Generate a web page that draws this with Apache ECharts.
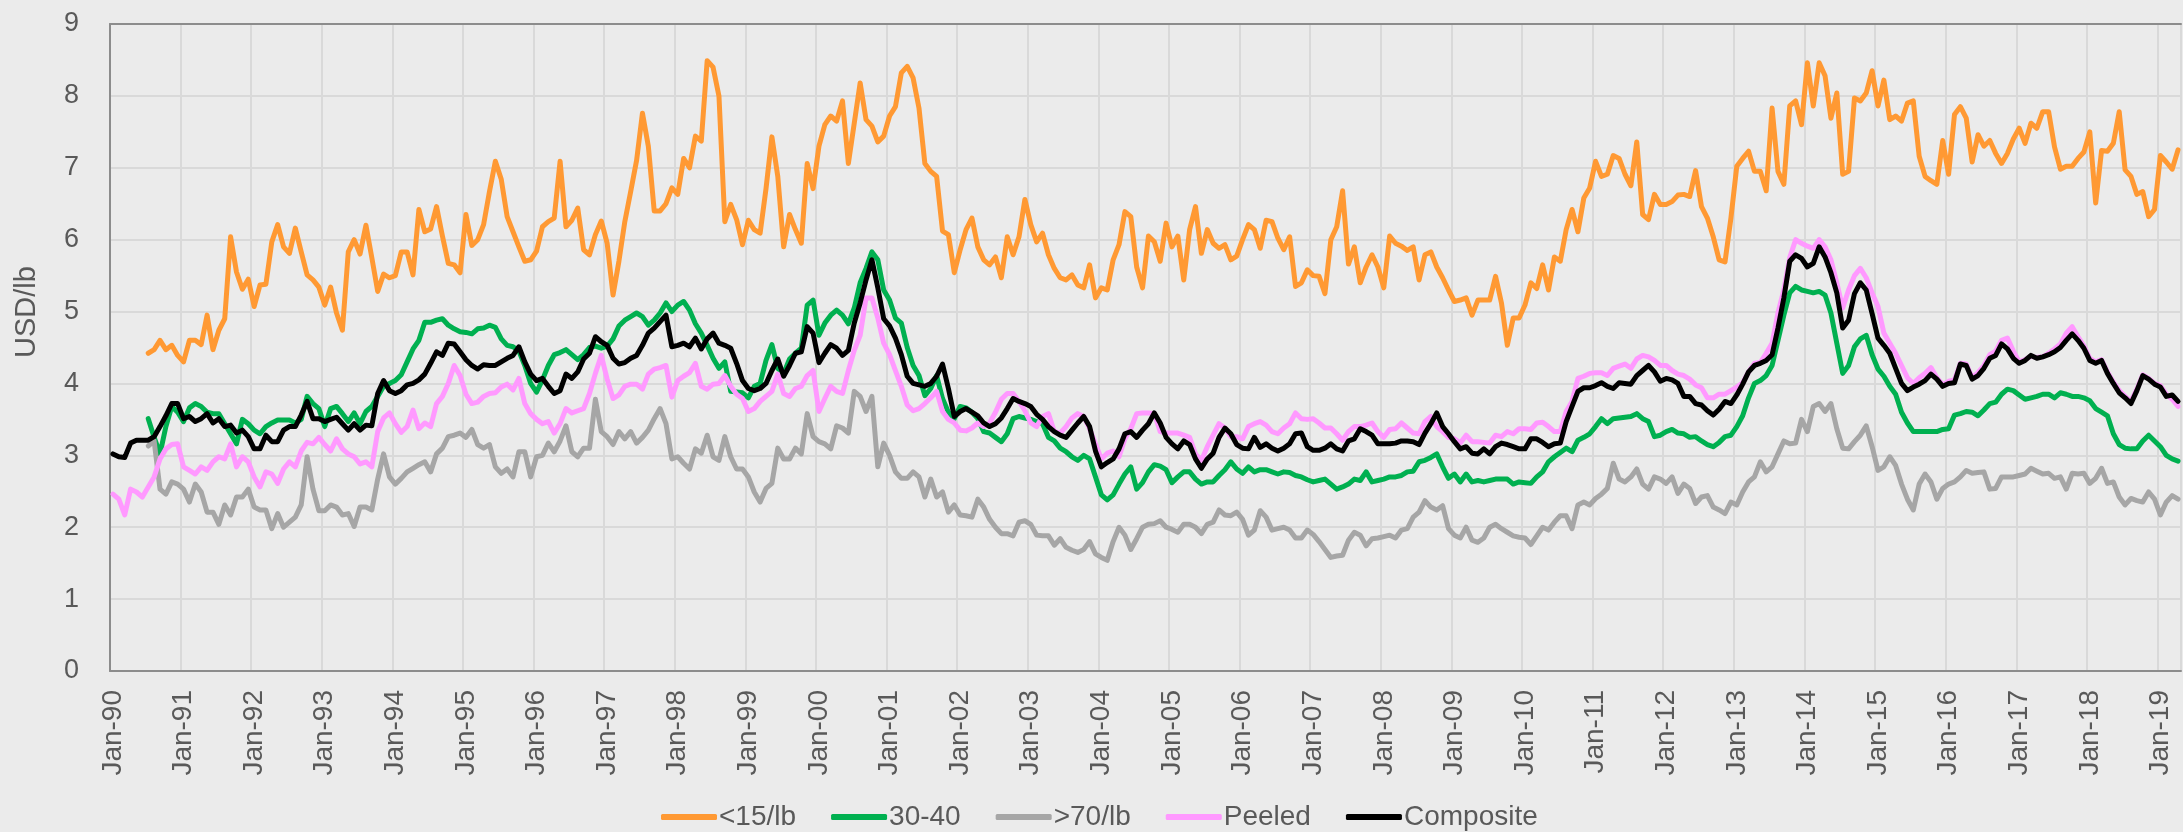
<!DOCTYPE html>
<html>
<head>
<meta charset="utf-8">
<script src="https://cdn.jsdelivr.net/npm/echarts@6/dist/echarts.min.js"></script>
<style>
html, body { margin: 0; padding: 0; background: #ebebeb; }
#chart { width: 2183px; height: 832px; }
</style>
</head>
<body>
<div id="chart"></div>
<script>
// monthly, Jan-90 .. Apr-19, USD/lb
var monthNames = ["Jan", "Feb", "Mar", "Apr", "May", "Jun", "Jul", "Aug", "Sep", "Oct", "Nov", "Dec"];
var firstYear = 1990, lastYear = 2019, lastMonth = 4;

var under15 = [
  null, null, null, null, null, null, 4.42, 4.47, 4.6, 4.47, 4.53, 4.39,
  4.3, 4.6, 4.6, 4.54, 4.95, 4.47, 4.74, 4.9, 6.04, 5.55, 5.31, 5.45,
  5.07, 5.37, 5.38, 5.97, 6.21, 5.9, 5.81, 6.16, 5.83, 5.51, 5.44, 5.34,
  5.09, 5.34, 4.98, 4.74, 5.83, 6.0, 5.8, 6.2, 5.75, 5.28, 5.52, 5.47,
  5.5, 5.83, 5.83, 5.51, 6.42, 6.11, 6.15, 6.46, 6.05, 5.67, 5.65, 5.54,
  6.35, 5.92, 6.0, 6.21, 6.67, 7.09, 6.84, 6.32, 6.11, 5.9, 5.7, 5.72,
  5.84, 6.18, 6.25, 6.3, 7.09, 6.18, 6.27, 6.44, 5.86, 5.79, 6.07, 6.26,
  5.95, 5.23, 5.7, 6.25, 6.67, 7.1, 7.76, 7.3, 6.4, 6.4, 6.5, 6.72,
  6.63, 7.13, 7.0, 7.44, 7.37, 8.49, 8.4, 8.0, 6.25, 6.49, 6.28, 5.93,
  6.27, 6.14, 6.09, 6.71, 7.43, 6.88, 5.9, 6.35, 6.14, 5.95, 7.06, 6.71,
  7.3, 7.6, 7.72, 7.65, 7.93, 7.06, 7.62, 8.18, 7.67, 7.58, 7.36, 7.44,
  7.72, 7.85, 8.32, 8.41, 8.25, 7.83, 7.06, 6.95, 6.88, 6.12, 6.07, 5.54,
  5.86, 6.14, 6.3, 5.9, 5.72, 5.65, 5.76, 5.47, 6.04, 5.79, 6.04, 6.56,
  6.21, 5.97, 6.09, 5.79, 5.6, 5.47, 5.44, 5.51, 5.37, 5.33, 5.65, 5.19,
  5.33, 5.3, 5.72, 5.93, 6.39, 6.32, 5.62, 5.33, 6.05, 5.97, 5.7, 6.23,
  5.9, 6.05, 5.44, 6.14, 6.46, 5.81, 6.14, 5.95, 5.88, 5.93, 5.72, 5.77,
  6.0, 6.21, 6.14, 5.88, 6.27, 6.25, 6.02, 5.86, 6.04, 5.35, 5.4, 5.58,
  5.5, 5.49, 5.25, 6.0, 6.18, 6.68, 5.66, 5.9, 5.4, 5.62, 5.79, 5.62,
  5.33, 6.05, 5.95, 5.91, 5.85, 5.9, 5.44, 5.79, 5.83, 5.62, 5.47, 5.3,
  5.14, 5.16, 5.19, 4.95, 5.16, 5.16, 5.16, 5.49, 5.12, 4.53, 4.91, 4.91,
  5.09, 5.4, 5.32, 5.65, 5.3, 5.76, 5.7, 6.14, 6.42, 6.11, 6.58, 6.72,
  7.09, 6.88, 6.91, 7.17, 7.13, 6.91, 6.75, 7.36, 6.35, 6.28, 6.63, 6.49,
  6.49, 6.53, 6.62, 6.63, 6.6, 6.96, 6.46, 6.3, 6.04, 5.72, 5.69, 6.3,
  7.02, 7.13, 7.23, 6.95, 6.95, 6.68, 7.83, 6.95, 6.77, 7.86, 7.93, 7.6,
  8.46, 7.86, 8.46, 8.28, 7.69, 8.04, 6.91, 6.95, 7.97, 7.93, 8.04, 8.35,
  7.86, 8.22, 7.67, 7.72, 7.65, 7.9, 7.93, 7.16, 6.88, 6.82, 6.77, 7.38,
  6.91, 7.74, 7.85, 7.69, 7.08, 7.46, 7.3, 7.38, 7.2, 7.06, 7.2, 7.4,
  7.55, 7.34, 7.62, 7.55, 7.78, 7.78, 7.29, 6.98, 7.02, 7.02, 7.13, 7.22,
  7.5, 6.51, 7.24, 7.23, 7.34, 7.78, 6.97, 6.88, 6.63, 6.67, 6.32, 6.42,
  7.17, 7.08, 6.98, 7.25
];

var size3040 = [
  null, null, null, null, null, null, 3.51, 3.25, 3.02, 3.4, 3.68, 3.6,
  3.47, 3.66, 3.72, 3.68, 3.6, 3.58, 3.58, 3.44, 3.3, 3.16, 3.5, 3.44,
  3.35, 3.3, 3.4, 3.45, 3.49, 3.49, 3.49, 3.45, 3.5, 3.82, 3.72, 3.65,
  3.4, 3.65, 3.68, 3.58, 3.47, 3.59, 3.44, 3.61, 3.68, 3.82, 3.96, 4.0,
  4.04, 4.12, 4.3, 4.48, 4.6, 4.85, 4.85, 4.88, 4.9, 4.81, 4.76, 4.72,
  4.71, 4.69, 4.76, 4.77, 4.81, 4.78, 4.62, 4.53, 4.51, 4.45, 4.25, 4.0,
  3.88, 4.05, 4.25, 4.4, 4.43, 4.47, 4.4, 4.33, 4.4, 4.5, 4.52, 4.49,
  4.52, 4.62, 4.8, 4.88, 4.93, 4.98, 4.93, 4.81, 4.88, 4.98, 5.12, 5.0,
  5.09, 5.14, 5.02, 4.83, 4.7, 4.53, 4.35, 4.21, 4.3, 3.89, 3.88, 3.87,
  3.8, 3.96, 4.0, 4.32, 4.54, 4.21, 4.14, 4.34, 4.42, 4.49, 5.09, 5.16,
  4.67, 4.84, 4.95, 5.02, 4.95, 4.83, 5.05, 5.4, 5.6, 5.83, 5.72, 5.3,
  5.16, 4.91, 4.84, 4.5, 4.25, 4.11, 3.83, 3.93, 4.11, 3.79, 3.6, 3.51,
  3.68, 3.66, 3.6, 3.51, 3.33, 3.31, 3.25, 3.19, 3.3, 3.51, 3.54, 3.52,
  3.5, 3.47, 3.44, 3.25, 3.2, 3.1, 3.05, 2.98, 2.93, 3.0, 2.95, 2.7,
  2.45, 2.38, 2.45, 2.6, 2.74, 2.84, 2.53, 2.62, 2.77, 2.87, 2.85, 2.8,
  2.62, 2.7, 2.77, 2.77, 2.67, 2.6, 2.63, 2.63, 2.72, 2.8, 2.91, 2.81,
  2.75, 2.84, 2.77, 2.8, 2.8, 2.77, 2.74, 2.77, 2.76, 2.72, 2.7, 2.66,
  2.63, 2.65, 2.67, 2.6, 2.53, 2.56, 2.6, 2.67, 2.65, 2.77, 2.63, 2.65,
  2.67, 2.7, 2.7, 2.72, 2.77, 2.78, 2.91, 2.93, 2.97, 3.02, 2.84, 2.68,
  2.74, 2.63, 2.74, 2.63, 2.65, 2.63, 2.65, 2.67, 2.67, 2.67, 2.6, 2.63,
  2.62, 2.61, 2.7, 2.77, 2.91, 2.98, 3.04, 3.1, 3.05, 3.21, 3.25, 3.3,
  3.4, 3.51, 3.44, 3.51, 3.52, 3.53, 3.54, 3.58, 3.51, 3.47, 3.26, 3.28,
  3.33, 3.36, 3.31, 3.3, 3.25, 3.26, 3.2, 3.15, 3.12, 3.18, 3.26, 3.28,
  3.4, 3.55, 3.8, 4.0, 4.04, 4.11, 4.25, 4.6, 4.95, 5.26, 5.35, 5.3,
  5.28, 5.26, 5.28, 5.23, 4.98, 4.56, 4.14, 4.25, 4.51, 4.62, 4.67, 4.4,
  4.2, 4.1, 3.96, 3.85, 3.6, 3.45, 3.33, 3.33, 3.33, 3.33, 3.33, 3.36,
  3.37, 3.56, 3.58, 3.61, 3.6, 3.55, 3.63, 3.72, 3.74, 3.85, 3.92, 3.9,
  3.84, 3.78, 3.8, 3.82, 3.85, 3.85, 3.8, 3.87, 3.85, 3.82, 3.82, 3.8,
  3.76, 3.65, 3.6, 3.55, 3.3, 3.15, 3.1, 3.09, 3.09, 3.2, 3.28, 3.2,
  3.12, 3.0, 2.95, 2.92
];

var over70 = [
  null, null, null, null, null, null, 3.13, 3.2, 2.53, 2.46, 2.63, 2.6,
  2.53, 2.35, 2.6, 2.49, 2.21, 2.21, 2.04, 2.31, 2.17, 2.42, 2.42, 2.53,
  2.28, 2.24, 2.24, 1.98, 2.19, 2.0, 2.07, 2.14, 2.31, 2.98, 2.53, 2.23,
  2.23, 2.31, 2.28, 2.17, 2.19, 2.01, 2.28, 2.28, 2.24, 2.67, 3.02, 2.7,
  2.6, 2.68, 2.77, 2.82, 2.87, 2.91, 2.77, 3.02, 3.1, 3.26, 3.28, 3.31,
  3.25, 3.36, 3.15, 3.1, 3.15, 2.84, 2.75, 2.81, 2.7, 3.05, 3.05, 2.7,
  2.98, 3.0, 3.17, 3.05, 3.2, 3.41, 3.05, 2.98, 3.1, 3.1, 3.78, 3.33,
  3.26, 3.15, 3.33, 3.23, 3.33, 3.17, 3.25, 3.35, 3.51, 3.65, 3.44, 2.95,
  2.98, 2.89, 2.81, 3.09, 3.03, 3.28, 2.98, 2.93, 3.26, 2.98, 2.81, 2.81,
  2.7, 2.49, 2.35, 2.54, 2.61, 3.1, 2.95, 2.95, 3.1, 3.02, 3.58, 3.26,
  3.19, 3.16, 3.09, 3.41, 3.38, 3.31, 3.89, 3.82, 3.61, 3.82, 2.84, 3.17,
  3.0, 2.77, 2.68, 2.68, 2.77, 2.7, 2.42, 2.67, 2.42, 2.49, 2.21, 2.31,
  2.17, 2.16, 2.14, 2.39, 2.28, 2.11, 2.0, 1.91, 1.91, 1.88, 2.07, 2.09,
  2.04, 1.89, 1.88, 1.88, 1.75, 1.84, 1.72, 1.68, 1.65, 1.69, 1.8, 1.63,
  1.58, 1.54, 1.8, 2.0, 1.89, 1.69, 1.84, 2.0, 2.04, 2.05, 2.09, 2.0,
  1.97, 1.93, 2.04, 2.04, 2.0, 1.91, 2.04, 2.07, 2.24, 2.17, 2.16, 2.21,
  2.11, 1.89, 1.96, 2.23, 2.14, 1.96, 1.98, 2.0, 1.96, 1.85, 1.85, 1.96,
  1.9, 1.8, 1.69, 1.58, 1.6, 1.61, 1.82, 1.93, 1.89, 1.74, 1.84, 1.85,
  1.87, 1.89, 1.85, 1.96, 1.98, 2.14, 2.21, 2.37, 2.28, 2.24, 2.3, 1.98,
  1.89, 1.85, 2.0, 1.82, 1.79, 1.85, 2.0, 2.04, 1.98, 1.93, 1.88, 1.86,
  1.85, 1.76, 1.88, 2.0, 1.96, 2.07, 2.16, 2.16, 1.98, 2.31, 2.35, 2.31,
  2.4, 2.46, 2.54, 2.89, 2.67, 2.63, 2.7, 2.81, 2.6, 2.53, 2.7, 2.67,
  2.61, 2.7, 2.47, 2.6, 2.54, 2.33, 2.42, 2.44, 2.28, 2.24, 2.19, 2.35,
  2.31, 2.49, 2.63, 2.7, 2.91, 2.77, 2.84, 3.02, 3.2, 3.16, 3.17, 3.5,
  3.33, 3.68, 3.72, 3.61, 3.72, 3.37, 3.1, 3.09, 3.19, 3.28, 3.41, 3.12,
  2.79, 2.84, 2.98, 2.86, 2.6, 2.39, 2.24, 2.6, 2.74, 2.63, 2.39, 2.54,
  2.6, 2.63, 2.7, 2.79, 2.75, 2.76, 2.77, 2.53, 2.54, 2.7, 2.7, 2.7,
  2.72, 2.74, 2.82, 2.78, 2.74, 2.75, 2.68, 2.7, 2.53, 2.75, 2.74, 2.75,
  2.61, 2.68, 2.82, 2.61, 2.63, 2.42, 2.31, 2.4, 2.37, 2.35, 2.49, 2.39,
  2.17, 2.35, 2.44, 2.39
];

var peeled = [
  2.46, 2.39, 2.17, 2.53, 2.49, 2.42, 2.56, 2.7, 2.95, 3.09, 3.15, 3.16,
  2.84, 2.79, 2.74, 2.84, 2.79, 2.91, 2.98, 2.95, 3.16, 2.84, 2.98, 2.91,
  2.7, 2.56, 2.77, 2.74, 2.61, 2.81, 2.91, 2.84, 3.06, 3.18, 3.16, 3.25,
  3.15, 3.06, 3.23, 3.09, 3.02, 2.98, 2.88, 2.91, 2.84, 3.33, 3.52, 3.59,
  3.44, 3.32, 3.4, 3.63, 3.37, 3.45, 3.4, 3.72, 3.82, 4.0, 4.25, 4.11,
  3.85, 3.72, 3.74, 3.82, 3.86, 3.87, 3.95, 3.99, 3.91, 4.07, 3.72, 3.58,
  3.5, 3.44, 3.47, 3.31, 3.44, 3.65, 3.59, 3.62, 3.65, 3.86, 4.14, 4.39,
  4.06, 3.79, 3.84, 3.96, 3.99, 3.99, 3.92, 4.13, 4.2, 4.22, 4.25, 3.81,
  4.04, 4.1, 4.15, 4.28, 3.96, 3.92, 3.99, 4.0, 4.11, 3.96, 3.85, 3.79,
  3.61, 3.65, 3.75, 3.82, 3.89, 4.13, 3.86, 3.82, 3.93, 3.96, 4.11, 4.18,
  3.61, 3.79, 3.96, 3.89, 3.86, 4.18, 4.46, 4.67, 5.19, 5.19, 4.91, 4.56,
  4.4, 4.18, 3.96, 3.7, 3.62, 3.65, 3.72, 3.8, 3.89, 3.61, 3.5, 3.45,
  3.35, 3.34, 3.38, 3.45, 3.4, 3.45, 3.6, 3.78, 3.86, 3.86, 3.75, 3.62,
  3.45, 3.4, 3.54, 3.58, 3.33, 3.31, 3.4, 3.52, 3.58, 3.54, 3.37, 3.16,
  2.95, 3.03, 3.06, 2.98, 3.23, 3.37, 3.58, 3.59, 3.59, 3.58, 3.33, 3.31,
  3.31, 3.31, 3.28, 3.25, 3.02, 2.93, 3.12, 3.28, 3.44, 3.38, 3.26, 3.26,
  3.23, 3.4, 3.44, 3.47, 3.42, 3.33, 3.3, 3.38, 3.44, 3.59, 3.51, 3.5,
  3.51, 3.45, 3.38, 3.38, 3.3, 3.21, 3.33, 3.4, 3.4, 3.42, 3.45, 3.33,
  3.25, 3.36, 3.37, 3.45, 3.38, 3.31, 3.3, 3.47, 3.54, 3.4, 3.33, 3.25,
  3.23, 3.17, 3.28, 3.19, 3.19, 3.18, 3.17, 3.28, 3.26, 3.33, 3.3, 3.37,
  3.37, 3.36, 3.45, 3.46, 3.4, 3.33, 3.33, 3.61, 3.75, 4.07, 4.1, 4.14,
  4.15, 4.15, 4.11, 4.21, 4.24, 4.27, 4.21, 4.34, 4.39, 4.37, 4.32, 4.25,
  4.25, 4.18, 4.13, 4.11, 4.06, 3.98, 3.94, 3.8, 3.8, 3.85, 3.85, 3.9,
  3.95, 4.01, 4.16, 4.28, 4.29, 4.42, 4.56, 4.98, 5.3, 5.75, 6.0, 5.95,
  5.91, 5.88, 6.0, 5.9, 5.72, 5.4, 5.05, 5.3, 5.5, 5.6, 5.47, 5.26,
  5.07, 4.7, 4.56, 4.42, 4.25, 4.08, 4.0, 4.08, 4.14, 4.22, 4.08, 3.98,
  4.03, 4.05, 4.28, 4.27, 4.08, 4.15, 4.25, 4.4, 4.45, 4.6, 4.63, 4.45,
  4.3, 4.33, 4.38, 4.36, 4.37, 4.42, 4.48, 4.55, 4.7, 4.79, 4.65, 4.52,
  4.35, 4.3, 4.33, 4.16, 4.02, 3.9, 3.82, 3.75, 3.92, 4.12, 4.07, 4.0,
  3.97, 3.85, 3.78, 3.68
];

var composite = [
  3.02, 2.98, 2.97, 3.17, 3.21, 3.21, 3.21, 3.26, 3.4, 3.55, 3.72, 3.72,
  3.51, 3.54, 3.47, 3.51, 3.58, 3.45, 3.51, 3.4, 3.42, 3.31, 3.35, 3.26,
  3.09, 3.09, 3.28, 3.19, 3.19, 3.35, 3.4, 3.4, 3.56, 3.75, 3.51, 3.51,
  3.47, 3.5, 3.53, 3.44, 3.35, 3.44, 3.35, 3.42, 3.41, 3.86, 4.04, 3.9,
  3.86, 3.9, 3.98, 4.0, 4.05, 4.13, 4.28, 4.44, 4.39, 4.56, 4.55, 4.44,
  4.33, 4.25, 4.2, 4.26, 4.25, 4.25, 4.3, 4.35, 4.39, 4.51, 4.3, 4.13,
  4.04, 4.07, 3.96, 3.86, 3.9, 4.13, 4.07, 4.16, 4.34, 4.42, 4.65, 4.58,
  4.53, 4.35, 4.27, 4.29, 4.35, 4.39, 4.53, 4.7, 4.77, 4.86, 4.95, 4.51,
  4.53, 4.56, 4.51, 4.63, 4.48, 4.62, 4.7, 4.56, 4.53, 4.49, 4.28, 4.04,
  3.93, 3.9, 3.93, 4.0, 4.18, 4.34, 4.1, 4.25, 4.42, 4.44, 4.79, 4.7,
  4.29, 4.42, 4.54, 4.49, 4.39, 4.46, 4.84, 5.12, 5.44, 5.72, 5.33, 4.9,
  4.8, 4.63, 4.4, 4.1, 4.0, 3.98, 3.96, 4.0, 4.1, 4.27, 3.93, 3.54,
  3.61, 3.65, 3.6, 3.55, 3.45, 3.4, 3.44, 3.52, 3.65, 3.79, 3.75, 3.72,
  3.68, 3.57, 3.5, 3.4, 3.33, 3.28, 3.25, 3.35, 3.45, 3.54, 3.4, 3.06,
  2.84, 2.9, 2.95, 3.09, 3.3, 3.33, 3.25, 3.35, 3.44, 3.59, 3.45, 3.25,
  3.16, 3.09, 3.2, 3.15, 2.95, 2.82, 2.95, 3.03, 3.25, 3.38, 3.3, 3.15,
  3.1, 3.09, 3.25, 3.11, 3.16, 3.1, 3.06, 3.1, 3.16, 3.3, 3.31, 3.12,
  3.07, 3.07, 3.1, 3.16, 3.09, 3.06, 3.2, 3.23, 3.37, 3.33, 3.28, 3.16,
  3.16, 3.16, 3.17, 3.2, 3.2, 3.19, 3.15, 3.31, 3.44, 3.59, 3.4, 3.3,
  3.19, 3.09, 3.12, 3.03, 3.02, 3.09, 3.02, 3.12, 3.17, 3.15, 3.12, 3.09,
  3.09, 3.23, 3.23, 3.18, 3.12, 3.16, 3.17, 3.47, 3.68, 3.89, 3.94, 3.94,
  3.97, 4.01, 3.96, 3.93, 4.01, 4.0, 3.99, 4.11, 4.18, 4.25, 4.16, 4.03,
  4.07, 4.05, 4.0, 3.82, 3.82, 3.72, 3.7, 3.62, 3.56, 3.64, 3.75, 3.72,
  3.84, 3.99, 4.16, 4.25, 4.28, 4.32, 4.4, 4.77, 5.19, 5.7, 5.79, 5.74,
  5.62, 5.67, 5.9, 5.76, 5.54, 5.26, 4.77, 4.88, 5.25, 5.4, 5.3, 4.97,
  4.63, 4.53, 4.42, 4.21, 4.0, 3.9, 3.95, 3.99, 4.04, 4.13, 4.06, 3.96,
  4.0, 4.01, 4.27, 4.25, 4.06, 4.11, 4.21, 4.35, 4.39, 4.55, 4.48, 4.35,
  4.28, 4.32, 4.39, 4.35, 4.37, 4.4, 4.44, 4.5, 4.6, 4.69, 4.6, 4.49,
  4.32, 4.28, 4.32, 4.14, 4.0, 3.87, 3.8, 3.72, 3.9, 4.11, 4.06, 3.99,
  3.95, 3.82, 3.84, 3.75
];

var months = [];
for (var y = firstYear; y <= lastYear; y++) {
  for (var m = 0; m < 12; m++) {
    if (y === lastYear && m >= lastMonth) break;
    months.push(monthNames[m] + "-" + String(y).slice(2));
  }
}

var textColor = "#595959";
var fontFamily = "'Liberation Sans', Arial, sans-serif";

var chart = echarts.init(document.getElementById("chart"), null, { renderer: "canvas" });

function lineSeries(name, data, color, width) {
  return {
    name: name,
    type: "line",
    data: data,
    symbol: "none",
    lineStyle: { color: color, width: width, cap: "round", join: "round" },
    itemStyle: { color: color },
    emphasis: { disabled: true }
  };
}

var option = {
  backgroundColor: "#ebebeb",
  animation: false,
  textStyle: { fontFamily: fontFamily },
  grid: { left: 110, right: 2, top: 24, bottom: 161 },
  legend: {
    data: ["<15/lb", "30-40", ">70/lb", "Peeled", "Composite"],
    left: 661,
    top: 803,
    padding: 0,
    icon: "roundRect",
    itemWidth: 56,
    itemHeight: 6,
    itemGap: 35,
    textStyle: { color: textColor, fontSize: 28, fontFamily: fontFamily, padding: [0, 0, 0, -3] }
  },
  xAxis: [
    {
      type: "category",
      data: months,
      boundaryGap: true,
      axisLine: { lineStyle: { color: "#8c8c8c", width: 2 } },
      axisTick: { show: false },
      axisLabel: {
        interval: 11,
        rotate: 90,
        margin: 19,
        fontSize: 28,
        color: textColor,
        fontFamily: fontFamily
      },
      splitLine: { show: true, interval: 11, lineStyle: { color: "#d9d9d9", width: 2 } }
    },
    {
      // top border of the plot area
      type: "category",
      data: months,
      position: "top",
      axisLine: { lineStyle: { color: "#8c8c8c", width: 2 } },
      axisTick: { show: false },
      axisLabel: { show: false },
      splitLine: { show: false }
    }
  ],
  yAxis: {
    type: "value",
    min: 0,
    max: 9,
    interval: 1,
    axisLine: { show: true, lineStyle: { color: "#8c8c8c", width: 2 } },
    axisTick: { show: false },
    axisLabel: { fontSize: 27, color: textColor, margin: 31, fontFamily: fontFamily },
    splitLine: { lineStyle: { color: "#d9d9d9", width: 2 } }
  },
  graphic: [
    {
      type: "text",
      x: 27,
      y: 312,
      rotation: Math.PI / 2,
      style: {
        text: "USD/lb",
        fill: textColor,
        fontSize: 29,
        fontFamily: fontFamily,
        textAlign: "center",
        textVerticalAlign: "middle"
      }
    }
  ],
  series: [
    lineSeries("<15/lb", under15, "#ff9933", 5),
    lineSeries("30-40", size3040, "#00b050", 5),
    lineSeries(">70/lb", over70, "#a6a6a6", 5),
    lineSeries("Peeled", peeled, "#ff99ff", 5),
    lineSeries("Composite", composite, "#000000", 5)
  ]
};

chart.setOption(option);
</script>
</body>
</html>
